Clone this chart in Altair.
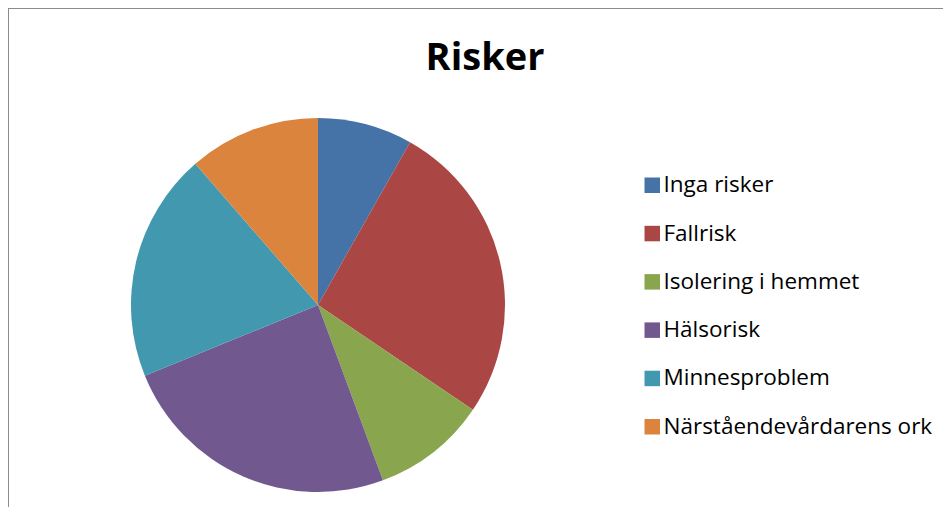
import altair as alt
import pandas as pd

categories = ["Inga risker", "Fallrisk", "Isolering i hemmet", "Hälsorisk",
              "Minnesproblem", "Närståendevårdarens ork"]
values = [8.2, 26.3, 9.9, 24.5, 19.8, 11.4]
colors = ["#4572A7", "#AA4643", "#89A54E", "#71588F", "#4198AF", "#DB843D"]
title_text = "Risker"

df = pd.DataFrame({"kategori": categories, "varde": values, "ordning": list(range(len(categories)))})

W, H = 935, 499

pie = alt.Chart(df).mark_arc(radius=187, stroke=None).encode(
    theta=alt.Theta("varde:Q", stack=True),
    order=alt.Order("ordning:Q", sort="ascending"),
    color=alt.Color(
        "kategori:N",
        sort=categories,
        scale=alt.Scale(domain=categories, range=colors),
        legend=alt.Legend(
            title=None, orient="none", legendX=633, legendY=166,
            symbolType="square", symbolSize=240, symbolStrokeWidth=0,
            labelFont="Open Sans", labelFontSize=22.5, labelColor="#000000",
            labelLimit=400, rowPadding=25.3, labelOffset=0,
        ),
    ),
    x=alt.value(310),
    y=alt.value(297),
)

title = alt.Chart(pd.DataFrame({"t": [title_text]})).mark_text(
    font="Open Sans", fontSize=38, fontWeight="bold", color="#000000", align="center", baseline="middle"
).encode(text="t:N", x=alt.value(477), y=alt.value(51))

frame_top = alt.Chart(pd.DataFrame({"a": [0]})).mark_rule(color="#8c8c8c", strokeWidth=2).encode(
    x=alt.value(0), x2=alt.value(W), y=alt.value(0)
)
frame_left = alt.Chart(pd.DataFrame({"a": [0]})).mark_rule(color="#8c8c8c", strokeWidth=2).encode(
    x=alt.value(0), y=alt.value(0), y2=alt.value(H)
)

chart = alt.layer(pie, title, frame_top, frame_left).properties(
    width=W, height=H, autosize=alt.AutoSizeParams(type="none"), padding=0
).configure_view(stroke=None)

chart.save("out.html", embed_options={"renderer": "svg", "actions": False})
